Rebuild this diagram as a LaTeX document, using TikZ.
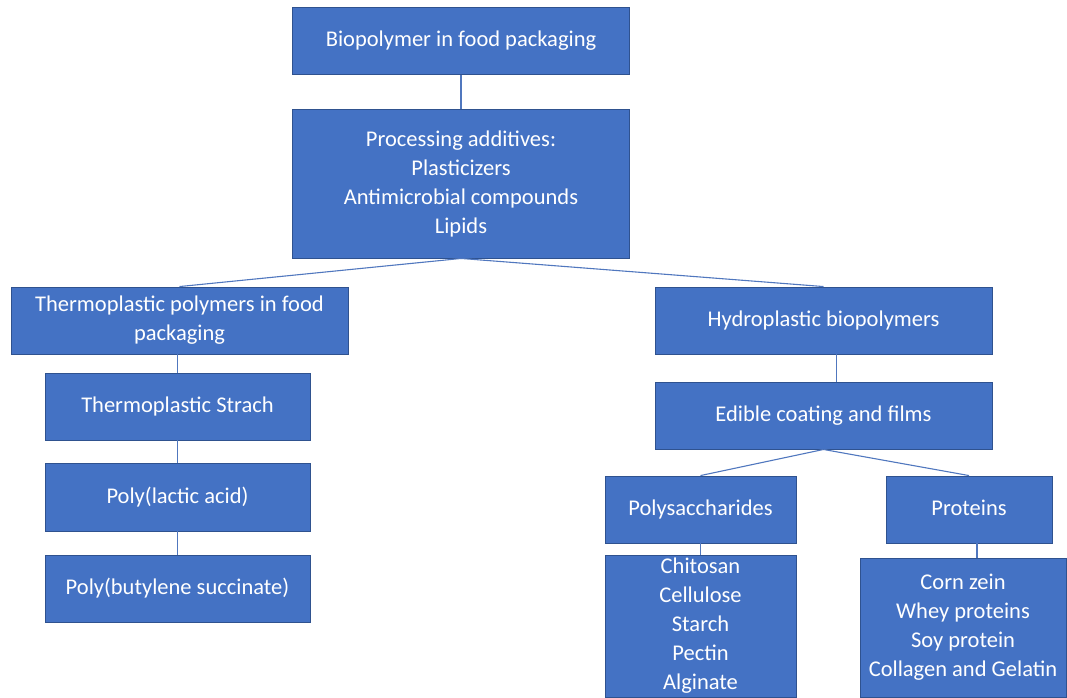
\documentclass[tikz,border=0pt]{standalone}
\usepackage{fontspec}
\setmainfont{Carlito}
\definecolor{boxfill}{HTML}{4472C4}
\definecolor{boxline}{HTML}{2F528F}
\definecolor{linkc}{HTML}{5077BE}
\begin{document}
\begin{tikzpicture}[x=1pt,y=-1pt,
  box/.style={draw=boxline,fill=boxfill,line width=0.9pt,text=white,align=center,
    inner sep=0pt,font=\fontsize{22.5}{29}\selectfont},
  link/.style={draw=linkc,line width=1.1pt}]
\useasboundingbox (0,0) rectangle (1067,697);
\node[box,minimum width=337pt,minimum height=67pt] (root) at (461,41) {Biopolymer in food packaging};
\node[box,minimum width=337pt,minimum height=149pt] (proc) at (461,183.5) {Processing additives:\\Plasticizers\\Antimicrobial compounds\\Lipids};
\node[box,minimum width=337pt,minimum height=67pt] (thermo) at (179.5,320.5) {Thermoplastic polymers in food\\packaging};
\node[box,minimum width=265pt,minimum height=67pt] (ts) at (177.5,406.5) {Thermoplastic Strach};
\node[box,minimum width=265pt,minimum height=68pt] (pla) at (177.5,497) {Poly(lactic acid)};
\node[box,minimum width=265pt,minimum height=67pt] (pbs) at (177.5,588.5) {Poly(butylene succinate)};
\node[box,minimum width=337pt,minimum height=67pt] (hydro) at (823.5,320.5) {Hydroplastic biopolymers};
\node[box,minimum width=337pt,minimum height=67pt] (edible) at (823.5,415.5) {Edible coating and films};
\node[box,minimum width=191pt,minimum height=67pt] (poly) at (700.5,509.5) {Polysaccharides};
\node[box,minimum width=166pt,minimum height=67pt] (prot) at (969,509.5) {\strut Proteins};
\node[box,minimum width=191pt,minimum height=142pt] (plist) at (700.5,626) {Chitosan\\Cellulose\\Starch\\Pectin\\Alginate};
\node[box,minimum width=206pt,minimum height=139pt] (prlist) at (963,627.5) {Corn zein\\Whey proteins\\Soy protein\\Collagen and Gelatin};
\draw[link] (root.south) -- (proc.north);
\draw[link] (proc.south) -- (thermo.north);
\draw[link] (proc.south) -- (hydro.north);
\draw[link] (ts.north) -- (ts.north |- thermo.south);
\draw[link] (pla.north) -- (ts.south);
\draw[link] (pbs.north) -- (pla.south);
\draw[link] ([xshift=13pt]edible.north) -- ([xshift=13pt]hydro.south);
\draw[link] (edible.south) -- (poly.north);
\draw[link] (edible.south) -- (prot.north);
\draw[link] (plist.north) -- (poly.south);
\draw[link] ([xshift=8pt]prot.south) -- ([xshift=8pt]prot.south |- prlist.north);
\end{tikzpicture}
\end{document}
